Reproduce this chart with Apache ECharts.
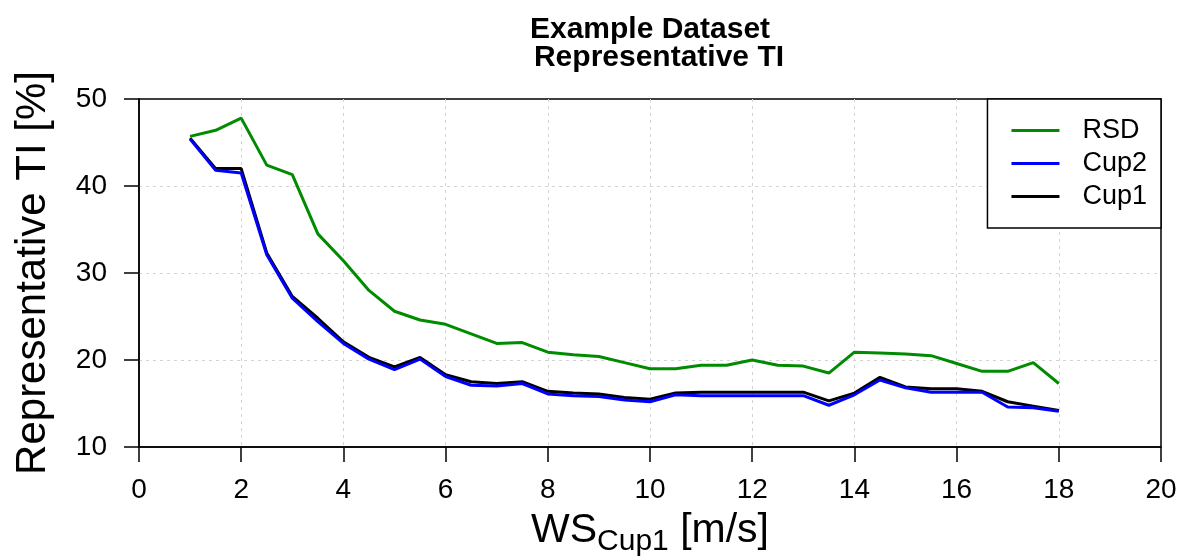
<!DOCTYPE html>
<html><head><meta charset="utf-8">
<script src="https://cdn.jsdelivr.net/npm/echarts@6/dist/echarts.min.js"></script>
<style>html,body{margin:0;padding:0;background:#fff}#c{width:1189px;height:559px}</style>
</head><body><div id="c"></div>
<script>
const windSpeed = [1,1.5,2,2.5,3,3.5,4,4.5,5,5.5,6,6.5,7,7.5,8,8.5,9,9.5,10,10.5,11,11.5,12,12.5,13,13.5,14,14.5,15,15.5,16,16.5,17,17.5,18];
const rsd  = [45.7,46.4,47.8,42.4,41.3,34.5,31.4,28.0,25.6,24.6,24.1,23.0,21.9,22.0,20.9,20.6,20.4,19.7,19.0,19.0,19.4,19.4,20.0,19.4,19.3,18.5,20.9,20.8,20.7,20.5,19.6,18.7,18.7,19.7,17.3];
const cup2 = [45.4,41.8,41.5,32.1,27.1,24.4,21.9,20.1,18.9,20.1,18.1,17.1,17.0,17.3,16.1,15.9,15.8,15.4,15.2,16.0,15.9,15.9,15.9,15.9,15.9,14.8,16.0,17.7,16.8,16.3,16.3,16.3,14.6,14.5,14.1];
const cup1 = [45.5,42.0,42.0,32.3,27.3,24.8,22.1,20.3,19.2,20.3,18.3,17.5,17.3,17.5,16.4,16.2,16.1,15.7,15.5,16.2,16.3,16.3,16.3,16.3,16.3,15.3,16.2,18.0,16.9,16.7,16.7,16.4,15.2,14.7,14.2];
const seriesNames = ['RSD','Cup2','Cup1'];
const titleLines = ['Example Dataset','Representative TI'];

const FF = 'Liberation Sans, Arial, Helvetica, sans-serif';
const pair = arr => windSpeed.map((x,i)=>[x, arr[i]]);
const chart = echarts.init(document.getElementById('c'));
chart.setOption({
  animation:false,
  backgroundColor:'#fff',
  title:[
    {text:titleLines[0], left:645, top:10, textAlign:'center', textStyle:{fontFamily:FF, fontWeight:'bold', fontSize:30, color:'#000'}},
    {text:titleLines[1], left:654, top:38, textAlign:'center', textStyle:{fontFamily:FF, fontWeight:'bold', fontSize:30, color:'#000'}}
  ],
  grid:{left:139, right:28, top:99, bottom:112, show:true, borderColor:'#000', borderWidth:1.5, backgroundColor:'transparent', containLabel:false, outerBoundsMode:'none'},
  legend:{
    data:seriesNames, orient:'vertical', right:28, top:99, icon:'rect',
    padding:[18,14,18,24], itemWidth:48, itemHeight:3, itemGap:6,
    borderColor:'#000', borderWidth:1.5, borderRadius:0, backgroundColor:'#fff',
    textStyle:{fontFamily:FF, fontSize:27, lineHeight:27, color:'#000', padding:[0,0,0,18]}
  },
  xAxis:{
    type:'value', min:0, max:20, interval:2,
    name:'{a|WS}{b|Cup1}{a| [m/s]}', nameLocation:'middle', nameGap:63,
    nameTextStyle:{fontFamily:FF, color:'#000', rich:{
      a:{fontFamily:FF, fontSize:41, lineHeight:44, verticalAlign:'top', color:'#000'},
      b:{fontFamily:FF, fontSize:30, lineHeight:30, verticalAlign:'top', padding:[17,0,0,0], color:'#000'}
    }},
    axisLine:{show:true, onZero:false, lineStyle:{color:'#000', width:1.5}},
    axisTick:{show:true, length:15, lineStyle:{color:'#000', width:1.5}},
    axisLabel:{fontFamily:FF, fontSize:28, color:'#000', margin:29},
    splitLine:{show:true, showMinLine:false, showMaxLine:false, lineStyle:{color:'#d3d3d3', type:[3,4], width:1}}
  },
  yAxis:{
    type:'value', min:10, max:50, interval:10,
    name:'Representative TI [%]', nameLocation:'middle', nameGap:85,
    nameTextStyle:{fontFamily:FF, fontSize:42, lineHeight:42, color:'#000'},
    axisLine:{show:true, onZero:false, lineStyle:{color:'#000', width:1.5}},
    axisTick:{show:true, length:15, lineStyle:{color:'#000', width:1.5}},
    axisLabel:{fontFamily:FF, fontSize:28, color:'#000', margin:32},
    splitLine:{show:true, showMinLine:false, showMaxLine:false, lineStyle:{color:'#d3d3d3', type:[3,4], width:1}}
  },
  series:[
    {name:'Cup1', type:'line', data:pair(cup1), symbol:'none', lineStyle:{color:'#000000', width:3}, itemStyle:{color:'#000000'}},
    {name:'Cup2', type:'line', data:pair(cup2), symbol:'none', lineStyle:{color:'#0000ff', width:3}, itemStyle:{color:'#0000ff'}},
    {name:'RSD', type:'line', data:pair(rsd), symbol:'none', lineStyle:{color:'#008b00', width:3}, itemStyle:{color:'#008b00'}}
  ]
});
</script></body></html>
